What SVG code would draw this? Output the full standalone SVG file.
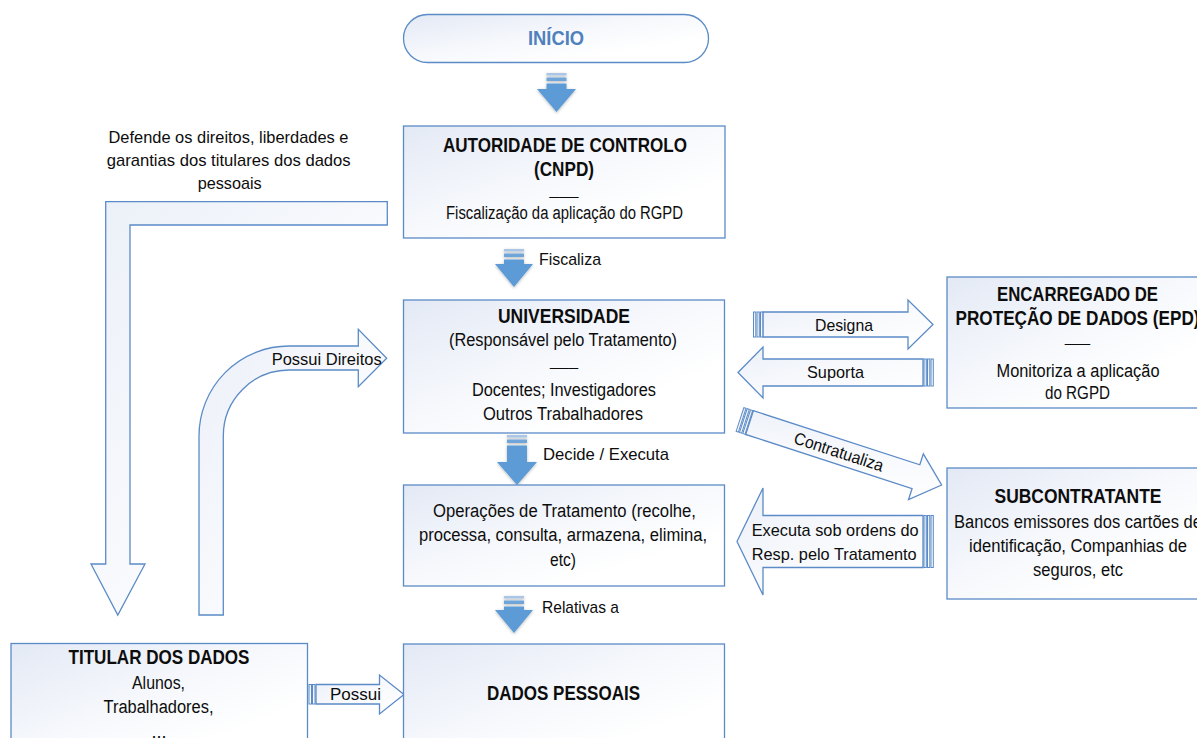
<svg xmlns="http://www.w3.org/2000/svg" width="1197" height="738" viewBox="0 0 1197 738">
  <defs>
    <linearGradient id="boxFill" x1="0" y1="0" x2="1" y2="1">
      <stop offset="0" stop-color="#E3E9F5"/>
      <stop offset="0.45" stop-color="#F6F8FC"/>
      <stop offset="0.75" stop-color="#FFFFFF"/>
    </linearGradient>
    <linearGradient id="arrowFill" x1="0" y1="0" x2="1" y2="1">
      <stop offset="0" stop-color="#EBF0F8"/>
      <stop offset="0.55" stop-color="#F9FAFD"/>
      <stop offset="1" stop-color="#FFFFFF"/>
    </linearGradient>
    <linearGradient id="barFill" x1="0" y1="0" x2="0" y2="1">
      <stop offset="0" stop-color="#E6ECF7"/>
      <stop offset="1" stop-color="#FFFFFF"/>
    </linearGradient>
    <filter id="soft" x="-30%" y="-30%" width="160%" height="160%">
      <feDropShadow dx="0" dy="1" stdDeviation="1.4" flood-color="#000" flood-opacity="0.28"/>
    </filter>
  </defs>
  <style>
    .box { fill: url(#boxFill); stroke: #5B8BC6; stroke-width: 1.3; }
    .out { fill: url(#arrowFill); stroke: #5B8BC6; stroke-width: 1.3; stroke-linejoin: miter; }
    .bar { fill: url(#barFill); stroke: #5B8BC6; stroke-width: 1; }
    .blue { fill: #5B9BD5; }
    .s1 { fill: #A9C6E6; }
    .s2 { fill: #6FA5DA; }
    text { font-family: "Liberation Sans", Arial, sans-serif; fill: #0D0D0D; }
    .c { text-anchor: middle; font-size: 18px; }
    .b { font-weight: bold; font-size: 20px; }
    .lbl { font-size: 17px; }
    .start { text-anchor: start; }
    .dash { font-size: 14px; }
  </style>

  <rect width="1197" height="738" fill="#FFFFFF"/>

  <!-- connectors -->
  <g id="connectors">
    <!-- solid blue down arrows -->
    <g id="arrow-inicio" filter="url(#soft)">
      <rect class="s1" x="546.5" y="73" width="20" height="2.5"/>
      <rect class="s2" x="546.5" y="77.5" width="20" height="3.5"/>
      <path class="blue" d="M546.5,83.5 H566.5 V89 H576 L556.5,112 L537,89 H546.5 Z"/>
    </g>
    <g id="arrow-fiscaliza">
      <g filter="url(#soft)">
        <rect class="s1" x="504" y="249" width="20" height="2.5"/>
        <rect class="s2" x="504" y="253.5" width="20" height="3.5"/>
        <path class="blue" d="M504,259.5 H524 V264 H533 L514,287 L495,264 H504 Z"/>
      </g>
      <text class="lbl start" x="539" y="265" textLength="62" lengthAdjust="spacingAndGlyphs">Fiscaliza</text>
    </g>
    <g id="arrow-decide">
      <g filter="url(#soft)">
        <rect class="s1" x="507" y="435" width="20" height="2.5"/>
        <rect class="s2" x="507" y="439.5" width="20" height="3.5"/>
        <path class="blue" d="M507,445.5 H527 V462 H537 L517,485 L497,462 H507 Z"/>
      </g>
      <text class="lbl start" x="543" y="460" textLength="126" lengthAdjust="spacingAndGlyphs">Decide / Executa</text>
    </g>
    <g id="arrow-relativas">
      <g filter="url(#soft)">
        <rect class="s1" x="504" y="596" width="20" height="2.5"/>
        <rect class="s2" x="504" y="600.5" width="20" height="3.5"/>
        <path class="blue" d="M504,606.5 H524 V610 H533 L514,633 L495,610 H504 Z"/>
      </g>
      <text class="lbl start" x="542" y="613" textLength="77" lengthAdjust="spacingAndGlyphs">Relativas a</text>
    </g>

    <!-- bent arrow from the authority down to the data subject -->
    <g id="arrow-defende">
      <path class="out" d="M105.7,201.7 H387.3 V225 H130 V564 H145 L117.8,615 L91,564 H105.7 Z"/>
      <text class="lbl c" x="228.5" y="143" textLength="240" lengthAdjust="spacingAndGlyphs">Defende os direitos, liberdades e</text>
      <text class="lbl c" x="228.7" y="166" textLength="244" lengthAdjust="spacingAndGlyphs">garantias dos titulares dos dados</text>
      <text class="lbl c" x="229.7" y="189" textLength="64" lengthAdjust="spacingAndGlyphs">pessoais</text>
    </g>

    <!-- bent arrow from the data subject up to the university -->
    <g id="arrow-direitos">
      <path class="out" d="M199,615 V436 A90,90 0 0 1 289,346 H358.3 V329.3 L386.7,358.3 L358.3,386.7 V370 H289 A66,66 0 0 0 223.3,436 V615 Z"/>
      <text class="lbl start" x="271.7" y="365" textLength="110" lengthAdjust="spacingAndGlyphs">Possui Direitos</text>
    </g>

    <!-- Designa -->
    <g id="arrow-designa">
      <path class="out" d="M763,312 H908 V300 L933,324.5 L908,349 V337 H763 Z"/>
      <rect class="bar" x="753.5" y="312" width="2.3" height="25"/>
      <rect class="bar" x="757" y="312" width="2.3" height="25"/>
      <rect class="bar" x="760.5" y="312" width="2.3" height="25"/>
      <text class="lbl c" x="844" y="331" textLength="58" lengthAdjust="spacingAndGlyphs">Designa</text>
    </g>

    <!-- Suporta -->
    <g id="arrow-suporta">
      <path class="out" d="M738,372.5 L763,347 V359 H923 V386 H763 V398 Z"/>
      <rect class="bar" x="924" y="359" width="2.3" height="27"/>
      <rect class="bar" x="927.5" y="359" width="2.3" height="27"/>
      <rect class="bar" x="931" y="359" width="2.3" height="27"/>
      <text class="lbl c" x="835.5" y="378" textLength="57" lengthAdjust="spacingAndGlyphs">Suporta</text>
    </g>

    <!-- Contratualiza (slanted) -->
    <g id="arrow-contratualiza" transform="translate(740,419.5) rotate(18)">
      <path class="out" d="M10,-12.5 H185 V-24 L212,0 L185,24 V12.5 H10 Z"/>
      <rect class="bar" x="0" y="-12.5" width="2.3" height="25"/>
      <rect class="bar" x="3.5" y="-12.5" width="2.3" height="25"/>
      <rect class="bar" x="7" y="-12.5" width="2.3" height="25"/>
      <text class="lbl c" x="104" y="6" textLength="93" lengthAdjust="spacingAndGlyphs">Contratualiza</text>
    </g>

    <!-- Executa sob ordens -->
    <g id="arrow-executa">
      <path class="out" d="M737,541.5 L763,488 V515.5 H923 V567.5 H763 V595 Z"/>
      <rect class="bar" x="924" y="515.5" width="2.3" height="52"/>
      <rect class="bar" x="927.5" y="515.5" width="2.3" height="52"/>
      <rect class="bar" x="931" y="515.5" width="2.3" height="52"/>
      <text class="lbl start" x="751.7" y="536" textLength="167" lengthAdjust="spacingAndGlyphs">Executa sob ordens do</text>
      <text class="lbl start" x="751.7" y="560" textLength="165" lengthAdjust="spacingAndGlyphs">Resp. pelo Tratamento</text>
    </g>

    <!-- Possui -->
    <g id="arrow-possui">
      <path class="out" d="M316,684.5 H379.5 V675 L404,694.5 L379.5,714 V704 H316 Z"/>
      <rect class="bar" x="309" y="684.5" width="2.5" height="19.5"/>
      <rect class="bar" x="312.5" y="684.5" width="2.5" height="19.5"/>
      <text class="lbl start" x="330" y="700" textLength="51" lengthAdjust="spacingAndGlyphs">Possui</text>
    </g>
  </g>

  <!-- nodes -->
  <g id="node-inicio">
    <rect class="box" x="403.5" y="14.5" width="305" height="48" rx="24" ry="24"/>
    <text class="c b" x="556" y="45" style="fill:#4F81BD" textLength="56" lengthAdjust="spacingAndGlyphs">INÍCIO</text>
  </g>

  <g id="node-autoridade">
    <rect class="box" x="403.5" y="126" width="321.5" height="112"/>
    <text class="c b" x="565" y="152" textLength="244" lengthAdjust="spacingAndGlyphs">AUTORIDADE DE CONTROLO</text>
    <text class="c b" x="564" y="176" textLength="60" lengthAdjust="spacingAndGlyphs">(CNPD)</text>
    <text class="c dash" x="564" y="195" textLength="29" lengthAdjust="spacingAndGlyphs">___</text>
    <text class="c" x="564.5" y="219" textLength="237" lengthAdjust="spacingAndGlyphs">Fiscalização da aplicação do RGPD</text>
  </g>

  <g id="node-universidade">
    <rect class="box" x="403.5" y="300" width="321" height="133"/>
    <text class="c b" x="564" y="323" textLength="132" lengthAdjust="spacingAndGlyphs">UNIVERSIDADE</text>
    <text class="c" x="563" y="346" textLength="228" lengthAdjust="spacingAndGlyphs">(Responsável pelo Tratamento)</text>
    <text class="c dash" x="564" y="366" textLength="28" lengthAdjust="spacingAndGlyphs">___</text>
    <text class="c" x="564" y="396" textLength="184" lengthAdjust="spacingAndGlyphs">Docentes; Investigadores</text>
    <text class="c" x="563" y="420" textLength="160" lengthAdjust="spacingAndGlyphs">Outros Trabalhadores</text>
  </g>

  <g id="node-operacoes">
    <rect class="box" x="403.5" y="485" width="321" height="101"/>
    <text class="c" x="564.5" y="517" textLength="263" lengthAdjust="spacingAndGlyphs">Operações de Tratamento (recolhe,</text>
    <text class="c" x="563" y="541" textLength="288" lengthAdjust="spacingAndGlyphs">processa, consulta, armazena, elimina,</text>
    <text class="c" x="563" y="566" textLength="26" lengthAdjust="spacingAndGlyphs">etc)</text>
  </g>

  <g id="node-dados">
    <rect class="box" x="403.5" y="644" width="321" height="120"/>
    <text class="c b" x="563.5" y="700" textLength="153" lengthAdjust="spacingAndGlyphs">DADOS PESSOAIS</text>
  </g>

  <g id="node-epd">
    <rect class="box" x="947" y="277" width="261" height="131"/>
    <text class="c b" x="1077.5" y="301" textLength="161" lengthAdjust="spacingAndGlyphs">ENCARREGADO DE</text>
    <text class="c b" x="1077.5" y="325" textLength="244" lengthAdjust="spacingAndGlyphs">PROTEÇÃO DE DADOS (EPD)</text>
    <text class="c dash" x="1077.5" y="341.5" textLength="25" lengthAdjust="spacingAndGlyphs">__</text>
    <text class="c" x="1078" y="377" textLength="163" lengthAdjust="spacingAndGlyphs">Monitoriza a aplicação</text>
    <text class="c" x="1077.5" y="399" textLength="65" lengthAdjust="spacingAndGlyphs">do RGPD</text>
  </g>

  <g id="node-subcontratante">
    <rect class="box" x="947" y="468" width="262" height="131"/>
    <text class="c b" x="1078" y="503" textLength="167" lengthAdjust="spacingAndGlyphs">SUBCONTRATANTE</text>
    <text class="c" x="1078" y="528" textLength="248" lengthAdjust="spacingAndGlyphs">Bancos emissores dos cartões de</text>
    <text class="c" x="1078" y="552" textLength="218" lengthAdjust="spacingAndGlyphs">identificação, Companhias de</text>
    <text class="c" x="1078" y="576" textLength="90" lengthAdjust="spacingAndGlyphs">seguros, etc</text>
  </g>

  <g id="node-titular">
    <rect class="box" x="11" y="643.5" width="296.5" height="120"/>
    <text class="c b" x="159" y="664" textLength="181" lengthAdjust="spacingAndGlyphs">TITULAR DOS DADOS</text>
    <text class="c" x="158.5" y="689" textLength="53" lengthAdjust="spacingAndGlyphs">Alunos,</text>
    <text class="c" x="158.5" y="713" textLength="110" lengthAdjust="spacingAndGlyphs">Trabalhadores,</text>
    <text class="c" x="159" y="738">...</text>
  </g>
</svg>
